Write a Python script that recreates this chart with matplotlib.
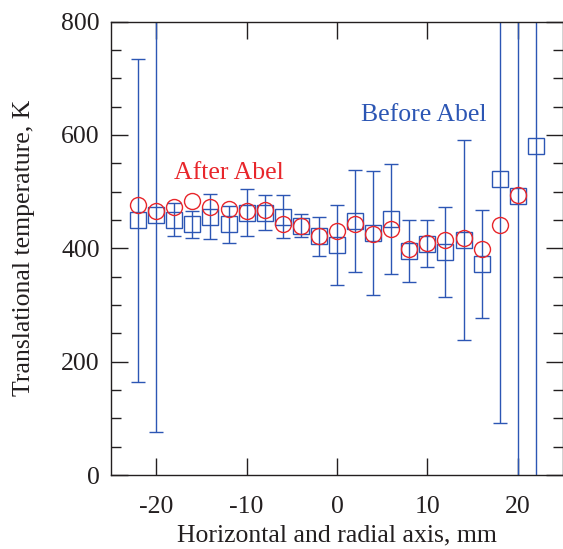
import matplotlib
matplotlib.use("Agg")
import matplotlib.pyplot as plt
from matplotlib.ticker import MultipleLocator

# Data
x_before = [-22, -20, -18, -16, -14, -12, -10, -8, -6, -4, -2, 0,
            2, 4, 6, 8, 10, 12, 14, 16, 18, 20, 22]
before = [449, 459, 450, 442, 456, 442, 463, 463, 456, 440, 421, 406,
          448, 427, 451, 395, 408, 393, 415, 372, 522, 493, 581]
before_err = [285, 384, 29, 24, 39, 32, 42, 31, 38, 21, 34, 71,
              90, 110, 97, 55, 41, 79, 176, 95, 430, 520, 620]
x_after = [-22, -20, -18, -16, -14, -12, -10, -8, -6, -4, -2, 0,
           2, 4, 6, 8, 10, 12, 14, 16, 18, 20]
after = [477, 465, 472, 483, 473, 470, 466, 467, 442, 440, 421, 430,
         443, 426, 434, 398, 410, 414, 418, 399, 441, 494]
xticks = [-20, -10, 0, 10, 20]
yticks = [0, 200, 400, 600, 800]

BLUE = "#2c56b4"
RED = "#e8262b"
DARK = "#231f20"

plt.rcParams['font.family'] = ['Liberation Serif', 'DejaVu Serif']

fig = plt.figure(figsize=(5.63, 5.49), dpi=100)
ax = fig.add_axes([111/563, 74/549, 1 - 111/563, (475 - 21.5)/549])

ax.errorbar(x_before, before, yerr=before_err, fmt='s', mfc='none', mec=BLUE,
            ms=11.5, mew=1.0, ecolor=BLUE, elinewidth=1.0, capsize=5.2,
            capthick=1.0, zorder=2)
ax.plot(x_after, after, 'o', mfc='none', mec=RED, ms=11.5, mew=1.0, zorder=3)

ax.text(9.6, 624, "Before Abel", color=BLUE, fontsize=18.5, ha='center', va='baseline')
ax.text(-12.0, 523, "After Abel", color=RED, fontsize=18.5, ha='center', va='baseline')

ax.set_xlim(-25, 25)
ax.set_ylim(0, 800)
ax.set_xticks(xticks)
ax.set_xticklabels([str(v) for v in xticks])
ax.set_yticks(yticks)
ax.yaxis.set_minor_locator(MultipleLocator(50))
ax.tick_params(axis='both', which='major', direction='in', length=12, width=1.0,
               labelsize=18.5, top=True, right=True, color=DARK, labelcolor=DARK)
ax.tick_params(axis='y', which='minor', direction='in', length=7, width=1.0,
               right=True, color=DARK)
ax.tick_params(axis='x', pad=15)
ax.tick_params(axis='y', pad=8)
for s in ax.spines.values():
    s.set_linewidth(1.0)
    s.set_color(DARK)

ax.set_xlabel("Horizontal and radial axis, mm", fontsize=18.5, labelpad=5, color=DARK)
ax.set_ylabel("Translational temperature, K", fontsize=18.5, labelpad=19, color=DARK)

fig.savefig("out.png", dpi=100)
